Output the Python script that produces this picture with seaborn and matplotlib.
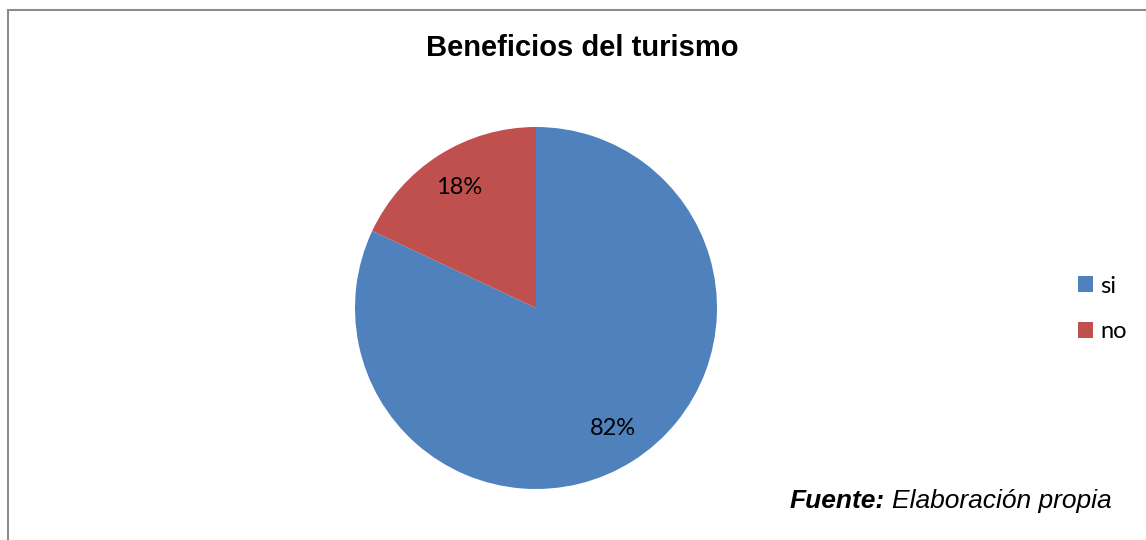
import matplotlib
matplotlib.use("Agg")
import matplotlib.pyplot as plt
import seaborn as sns
from matplotlib.lines import Line2D
from matplotlib.patches import Patch

categories = ["si", "no"]
values = [82, 18]
title = "Beneficios del turismo"
colors = ["#4F81BD", "#C0504D"]

sns.set_theme(style="white")
plt.rcParams['font.family'] = ['Liberation Sans', 'DejaVu Sans']
plt.rcParams['text.color'] = 'black'

W, H = 1146, 540
fig = plt.figure(figsize=(W / 100, H / 100), dpi=100)
fig.patch.set_facecolor("white")

cx, cy, r = 536, 308, 181
ax = fig.add_axes([(cx - r) / W, (H - cy - r) / H, 2 * r / W, 2 * r / H])
wedges, texts, autotexts = ax.pie(values, colors=colors, startangle=90, counterclock=False,
                                  autopct=lambda p: f"{p:.0f}%", pctdistance=0.79,
                                  wedgeprops=dict(linewidth=0),
                                  textprops=dict(fontsize=17, family="Lato", color="black"))
ax.set_xlim(-1, 1)
ax.set_ylim(-1, 1)
ax.set_aspect("equal")
ax.axis("off")

fig.text(582 / W, 1 - 48 / H, title, ha="center", va="center", fontsize=21,
         fontweight="bold", color="black")

handles = [Patch(facecolor=c, edgecolor="none") for c in colors]
leg = fig.legend(handles, categories, loc="center left", bbox_to_anchor=(1078 / W, 1 - 309 / H),
                 frameon=False, prop=dict(family="Lato", size=17), handlelength=0.65,
                 handleheight=0.65, handletextpad=0.3, labelspacing=1.05, borderpad=0,
                 borderaxespad=0)
for t in leg.get_texts():
    t.set_color("black")

fig.text(790 / W, 1 - 501 / H, "Fuente:", ha="left", va="center", fontsize=19,
         fontweight="bold", fontstyle="italic", color="black")
fig.text(1112 / W, 1 - 501 / H, "Elaboración propia", ha="right", va="center", fontsize=19,
         fontstyle="italic", color="black")

fig.add_artist(Line2D([7.5 / W, 7.5 / W], [0, 1 - 9.5 / H], transform=fig.transFigure,
                      color="#8c8c8c", lw=1.5))
fig.add_artist(Line2D([7.5 / W, 1], [1 - 9.5 / H, 1 - 9.5 / H], transform=fig.transFigure,
                      color="#8c8c8c", lw=1.5))

fig.savefig("out.png", dpi=100)
